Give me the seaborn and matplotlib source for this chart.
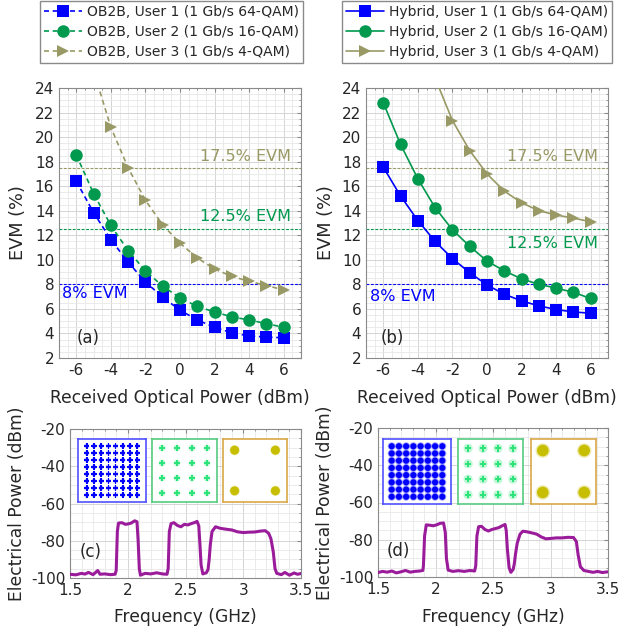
import numpy as np
import pandas as pd
import matplotlib
matplotlib.use("Agg")
import matplotlib.pyplot as plt
import seaborn as sns
from matplotlib.lines import Line2D
from matplotlib.ticker import MultipleLocator

# ---------------- data ----------------
power = [-6, -5, -4, -3, -2, -1, 0, 1, 2, 3, 4, 5, 6]

ob2b_user1 = [16.4, 13.85, 11.65, 9.8, 8.2, 6.95, 5.9, 5.1, 4.5, 4.05, 3.8, 3.7, 3.65]
ob2b_user2 = [18.55, 15.4, 12.8, 10.75, 9.1, 7.85, 6.9, 6.2, 5.75, 5.35, 5.1, 4.8, 4.5]
ob2b_user3 = [30.5, 25.4, 20.8, 17.5, 14.85, 12.85, 11.35, 10.15, 9.25, 8.65, 8.25, 7.9, 7.55]

hyb_user1 = [17.55, 15.2, 13.2, 11.5, 10.1, 8.95, 7.95, 7.2, 6.65, 6.25, 5.95, 5.75, 5.65]
hyb_user2 = [22.8, 19.4, 16.6, 14.25, 12.45, 11.1, 9.9, 9.1, 8.45, 8.0, 7.7, 7.35, 6.85]
hyb_user3 = [38.0, 33.0, 28.5, 24.8, 21.35, 18.9, 17.0, 15.6, 14.65, 14.0, 13.65, 13.4, 13.1]

thresholds = [17.5, 12.5, 8.0]
threshold_labels = ["17.5% EVM", "12.5% EVM", "8% EVM"]

ob2b_labels = ["OB2B, User 1 (1 Gb/s 64-QAM)", "OB2B, User 2 (1 Gb/s 16-QAM)",
               "OB2B, User 3 (1 Gb/s 4-QAM)"]
hyb_labels = ["Hybrid, User 1 (1 Gb/s 64-QAM)", "Hybrid, User 2 (1 Gb/s 16-QAM)",
              "Hybrid, User 3 (1 Gb/s 4-QAM)"]

spec_c_freq = [1.50, 1.55, 1.60, 1.63, 1.66, 1.70, 1.74, 1.76, 1.80, 1.85, 1.89,
               1.900, 1.910, 1.920, 1.95, 1.98, 2.00, 2.03, 2.06, 2.08, 2.090, 2.100,
               2.11, 2.15, 2.20, 2.25, 2.30, 2.34, 2.350, 2.360, 2.375, 2.40, 2.43,
               2.46, 2.49, 2.52, 2.55, 2.58, 2.60, 2.615, 2.625, 2.635, 2.65, 2.68,
               2.695, 2.705, 2.715, 2.73, 2.76, 2.80, 2.85, 2.90, 2.95, 3.00, 3.05,
               3.10, 3.15, 3.19, 3.22, 3.24, 3.26, 3.275, 3.29, 3.33, 3.36, 3.40,
               3.44, 3.47, 3.50]
spec_c_pow = [-98.0, -98.3, -97.5, -97.9, -97.0, -98.2, -96.0, -98.0, -97.8, -98.2, -98.0,
              -96.0, -75.0, -70.5, -70.3, -71.2, -71.0, -70.5, -69.3, -69.8, -80.0, -95.0,
              -98.5, -97.5, -97.8, -97.2, -97.8, -98.0, -95.0, -75.0, -70.8, -70.3, -71.8,
              -72.5, -71.2, -71.5, -70.8, -70.2, -69.6, -72.0, -82.0, -93.0, -97.8, -97.2,
              -95.5, -90.0, -82.0, -75.0, -72.5, -73.3, -73.8, -74.2, -75.2, -75.6, -75.4,
              -75.3, -74.8, -74.6, -76.0, -79.0, -86.0, -95.0, -97.5, -98.2, -97.0, -98.5,
              -97.3, -98.0, -97.6]

spec_d_freq = [1.50, 1.54, 1.58, 1.62, 1.66, 1.70, 1.74, 1.78, 1.82, 1.86, 1.89,
               1.895, 1.905, 1.92, 1.95, 1.98, 2.01, 2.04, 2.07, 2.085, 2.095, 2.11,
               2.15, 2.20, 2.25, 2.30, 2.34, 2.35, 2.36, 2.375, 2.40, 2.43, 2.46,
               2.49, 2.52, 2.55, 2.58, 2.605, 2.615, 2.625, 2.64, 2.655, 2.675, 2.685,
               2.695, 2.71, 2.735, 2.76, 2.80, 2.85, 2.88, 2.92, 2.96, 3.00, 3.05,
               3.10, 3.15, 3.20, 3.225, 3.24, 3.26, 3.29, 3.33, 3.37, 3.41, 3.45, 3.50]
spec_d_pow = [-97.6, -97.0, -97.4, -96.8, -97.8, -97.2, -96.5, -97.4, -97.0, -96.8, -96.5,
              -94.0, -78.0, -72.0, -72.2, -72.5, -72.0, -71.2, -71.0, -76.0, -90.0, -96.3,
              -97.0, -96.6, -97.0, -96.5, -96.8, -94.0, -78.0, -73.0, -72.8, -74.5, -75.3,
              -74.5, -74.0, -73.5, -72.5, -71.8, -75.0, -85.0, -95.0, -97.5, -96.0, -93.0,
              -88.0, -82.0, -77.0, -75.4, -75.8, -76.5, -77.0, -78.5, -79.5, -79.3, -79.0,
              -79.0, -78.7, -78.8, -81.0, -88.0, -94.5, -96.5, -97.0, -97.5, -97.0, -97.6,
              -97.2]

qam64_levels = [-7, -5, -3, -1, 1, 3, 5, 7]
qam16_levels = [-3, -1, 1, 3]
qam4_levels = [-1, 1]

# ---------------- style ----------------
BLUE = "#0000FF"
GREEN = "#00994D"
TAN = "#999966"
PURPLE = "#9B1C9B"
C64 = "#0000FF"
C16 = "#2EE37A"
C4 = "#C8BE00"
TEXT = "#262626"

sns.set_style("white")
plt.rcParams["font.family"] = ["DejaVu Sans"]
plt.rcParams["axes.unicode_minus"] = False

W, H = 619, 635
fig = plt.figure(figsize=(W / 100, H / 100), dpi=100)


def rect(l, t, r, b):
    return [l / W, 1 - b / H, (r - l) / W, (b - t) / H]


def style_axes(ax, xmaj, xmin, ymaj, ymin):
    ax.xaxis.set_major_locator(MultipleLocator(xmaj))
    ax.xaxis.set_minor_locator(MultipleLocator(xmin))
    ax.yaxis.set_major_locator(MultipleLocator(ymaj))
    ax.yaxis.set_minor_locator(MultipleLocator(ymin))
    ax.grid(True, which="major", color="#d4d4d4", lw=0.7)
    ax.grid(True, which="minor", color="#e8e8e8", lw=0.6)
    ax.set_axisbelow(True)
    ax.tick_params(which="both", direction="in", top=True, right=True,
                   colors="#8a8a8a", labelcolor=TEXT, labelsize=11)
    ax.tick_params(which="major", length=3)
    ax.tick_params(which="minor", length=1.5)
    for s in ax.spines.values():
        s.set_color("#8a8a8a")
        s.set_linewidth(0.8)


def place_labels(ax, xlab_y_px, ylab_x_px):
    ax.xaxis.label.set_verticalalignment("center")
    ax.yaxis.label.set_verticalalignment("center")
    bb = ax.get_position()
    ax.xaxis.set_label_coords(0.5, ((H - xlab_y_px) - bb.y0 * H) / (bb.height * H))
    ax.yaxis.set_label_coords((ylab_x_px - bb.x0 * W) / (bb.width * W), 0.5)


evm_sets = [
    (rect(59, 88, 301, 358), [ob2b_user1, ob2b_user2, ob2b_user3], ob2b_labels, (0, (3.0, 2.2)),
     [(6.42, 18.43, "right"), (6.42, 13.5, "right"), (-6.83, 7.25, "left")], "(a)", -5.3,
     (40, 1), 18),
    (rect(366, 88, 608, 358), [hyb_user1, hyb_user2, hyb_user3], hyb_labels, "-",
     [(6.42, 18.43, "right"), (6.42, 11.34, "right"), (-6.75, 6.99, "left")], "(b)", -5.45,
     (342, 1), 326),
]
series_colors = [BLUE, GREEN, TAN]
series_markers = ["s", "o", ">"]
thr_colors = [TAN, GREEN, BLUE]

for r, series, labels, ls, thr_pos, tag, tagx, legpos, ylx in evm_sets:
    ax = fig.add_axes(r)
    style_axes(ax, 2, 0.5, 2, 0.5)
    for yv, c in zip(thresholds, thr_colors):
        ax.axhline(yv, color=c, lw=0.8, ls=(0, (2.5, 1.5)), zorder=2)
    handles = []
    for vals, c, m, lab in zip(series, series_colors, series_markers, labels):
        df = pd.DataFrame({"p": power, "evm": vals})
        sns.lineplot(data=df, x="p", y="evm", ax=ax, color=c, lw=1.2, linestyle=ls,
                     marker=m, markersize=9, markeredgewidth=0, zorder=3)
        handles.append(Line2D([], [], color=c, lw=1.2, linestyle=ls, marker=m,
                              markersize=9, markeredgewidth=0))
    for (tx, ty, ha), t, c in zip(thr_pos, threshold_labels, thr_colors):
        ax.text(tx, ty, t, color=c, fontsize=11.5, ha=ha, va="center", zorder=4)
    ax.text(tagx, 3.6, tag, fontsize=12, color=TEXT, ha="center", va="center")
    ax.set_xlim(-7, 7)
    ax.set_ylim(2, 24)
    ax.set_xlabel("Received Optical Power (dBm)", fontsize=12.3, color=TEXT)
    ax.set_ylabel("EVM (%)", fontsize=12.8, color=TEXT)
    place_labels(ax, 398, ylx)
    fig.legend(handles, labels, loc="upper left",
               bbox_to_anchor=(legpos[0] / W, 1 - legpos[1] / H),
               fontsize=10, frameon=True, fancybox=False, edgecolor="#8a8a8a",
               framealpha=1, borderpad=0.3, labelspacing=0.42, handlelength=2.7,
               handletextpad=0.35, borderaxespad=0)

spec_sets = [
    (rect(70, 429, 301, 578), spec_c_freq, spec_c_pow, "(c)", 17,
     [(78, 439, 146, 502), (152, 439, 217, 502), (223, 439, 287, 502)], False),
    (rect(378, 428, 608, 577), spec_d_freq, spec_d_pow, "(d)", 325,
     [(383, 439, 451, 504), (458, 439, 523, 504), (531, 439, 596, 504)], True),
]

for r, fr, pw, tag, ylx, insets, noisy in spec_sets:
    ax = fig.add_axes(r)
    style_axes(ax, 0.5, 0.1, 20, 5)
    df = pd.DataFrame({"f": fr, "p": pw})
    sns.lineplot(data=df, x="f", y="p", ax=ax, color=PURPLE, lw=2.2, zorder=3)
    ax.set_xlim(1.5, 3.5)
    ax.set_ylim(-100, -20)
    ax.xaxis.set_major_formatter(matplotlib.ticker.FuncFormatter(lambda v, p: f"{v:g}"))
    ax.text(1.68, -86, tag, fontsize=12, color=TEXT, ha="center", va="center")
    ax.set_xlabel("Frequency (GHz)", fontsize=12.3, color=TEXT)
    ax.set_ylabel("Electrical Power (dBm)", fontsize=12.3, color=TEXT)
    place_labels(ax, 617, ylx)

    # constellation insets
    consts = [(qam64_levels, C64, "#5050FF", 9.4, 9.0),
              (qam16_levels, C16, "#55CC80", 4.35, 4.2),
              (qam4_levels, C4, "#D8A848", 1.57, 1.55)]
    for (l, t, rr, b), (lev, col, edge, xl, yl) in zip(insets, consts):
        iax = fig.add_axes(rect(l, t, rr, b))
        iax.set_facecolor("white")
        pts = pd.DataFrame([(i, q) for i in lev for q in lev], columns=["I", "Q"])
        if len(lev) == 8:
            big, small, mk = ((34, 20, "o") if noisy else (14, 14, "P"))
        elif len(lev) == 4:
            big, small, mk = ((44, 22, "P") if noisy else (24, 16, "P"))
        else:
            big, small, mk = ((110, 70, "o") if noisy else (55, 42, "o"))
        sns.scatterplot(data=pts, x="I", y="Q", ax=iax, color=col, s=big, alpha=0.3,
                        edgecolor="none", legend=False)
        sns.scatterplot(data=pts, x="I", y="Q", ax=iax, color=col, s=small,
                        marker=mk, edgecolor="none", legend=False)
        iax.set_xlim(-xl, xl)
        iax.set_ylim(-yl, yl)
        iax.set_xticks([])
        iax.set_yticks([])
        iax.set_xlabel("")
        iax.set_ylabel("")
        for s in iax.spines.values():
            s.set_color(edge)
            s.set_linewidth(1.2)

fig.savefig("out.png", dpi=100)
